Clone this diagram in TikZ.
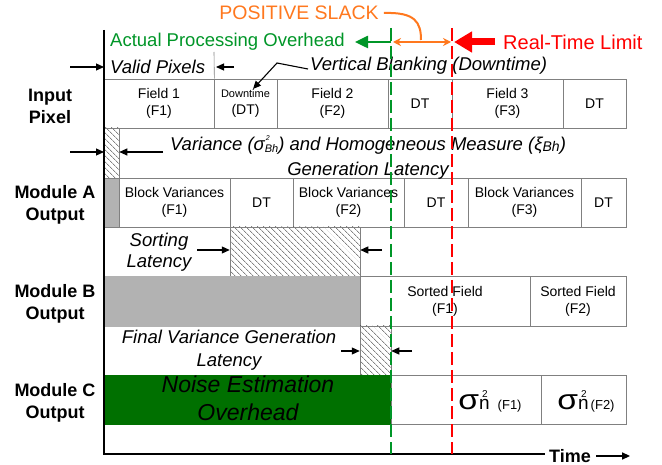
\documentclass[tikz,border=0pt]{standalone}
\usepackage{fontspec}
\usepackage{graphicx}
\setmainfont{Liberation Sans}
\usetikzlibrary{arrows.meta,patterns.meta}
\definecolor{gfill}{RGB}{0,112,0}
\definecolor{gline}{RGB}{0,150,40}
\definecolor{otext}{RGB}{255,120,30}
\definecolor{rline}{RGB}{255,0,0}
\definecolor{bfill}{RGB}{178,178,178}
\definecolor{bord}{RGB}{128,128,128}
\newcommand\sigmn[2]{{\fontsize{28}{28}\selectfont\scalebox{1.2}[1]{σ}}\rlap{\hspace{3pt}\raisebox{12pt}{\fontsize{10}{10}\selectfont 2}}{\fontsize{19}{19}\selectfont n}\hspace{#2}{\fontsize{13}{13}\selectfont (#1)}}
\begin{document}
\begin{tikzpicture}[x=1pt,y=-1pt,
  cell/.style={draw=bord, line width=0.7pt, inner sep=0pt, align=center, font=\fontsize{14}{17}\selectfont, minimum height=49pt},
  rowlab/.style={align=center, font=\fontsize{18}{22}\selectfont\bfseries, inner sep=0pt},
  note/.style={inner sep=0pt},
  hatch/.style={draw=bord, line width=0.5pt, inner sep=0pt, pattern={Lines[angle=-45,distance=4pt,line width=0.6pt]}, pattern color=black!75},
  arr/.style={-{Triangle[length=8pt,width=7pt]}, line width=1.1pt},
  gdash/.style={gline, line width=2.8pt, dash pattern=on 13pt off 5pt},
  rdash/.style={rline, line width=2.8pt, dash pattern=on 13pt off 5pt}]
\useasboundingbox (0,0) rectangle (662,465);
\fill[white] (0,0) rectangle (662,465);

% Row 1 : input pixel
\node[cell, minimum width=110pt] (f1) at (159,103.5) {Field 1\\(F1)};
\node[cell, minimum width=63pt] (dt1) at (245.5,103.5) {{\fontsize{11}{13}\selectfont Downtime}\\(DT)};
\node[cell, minimum width=111pt] (f2) at (332.5,103.5) {Field 2\\(F2)};
\node[cell, minimum width=64pt] (dt2) at (420,103.5) {DT};
\node[cell, minimum width=111pt] (f3) at (507.5,103.5) {Field 3\\(F3)};
\node[cell, minimum width=63pt] (dt3) at (594.5,103.5) {DT};

% variance latency strip
\node[hatch, minimum width=15pt, minimum height=50pt] (vlat) at (111.5,153) {};

% Row 2 : module A
\node[cell, fill=bfill, minimum width=15pt] (ga) at (111.5,202.5) {};
\node[cell, minimum width=111pt] (bv1) at (174.5,202.5) {Block Variances\\(F1)};
\node[cell, minimum width=63pt] (dta1) at (261.5,202.5) {DT};
\node[cell, minimum width=111pt] (bv2) at (348.5,202.5) {Block Variances\\(F2)};
\node[cell, minimum width=64pt] (dta2) at (436,202.5) {DT};
\node[cell, minimum width=113pt] (bv3) at (524.5,202.5) {Block Variances\\(F3)};
\node[cell, minimum width=45pt] (dta3) at (603.5,202.5) {DT};

% sorting latency
\node[hatch, minimum width=130pt, minimum height=49pt] (slat) at (295,251.5) {};

% Row 3 : module B
\node[cell, fill=bfill, draw=bfill, minimum width=256pt, minimum height=50pt] (gb) at (232,301) {};
\node[cell, minimum width=170pt, minimum height=50pt] (sf1) at (445,301) {Sorted Field\\(F1)};
\node[cell, minimum width=96pt, minimum height=50pt] (sf2) at (578,301) {Sorted Field\\(F2)};

% final variance latency
\node[hatch, minimum width=31pt, minimum height=49pt] (flat) at (375.5,350.5) {};

% Row 4 : module C
\node[cell, fill=gfill, draw=gfill, minimum width=287pt] (gc) at (247.5,399.5) {};
\node[cell, minimum width=150pt] (s1) at (466,399.5) {};
\node[cell, minimum width=85pt] (s2) at (583.5,399.5) {};
\node[inner sep=0pt] (s1t) at (490,401) {\sigmn{F1}{8pt}};
\node[inner sep=0pt] (s2t) at (586,401) {\sigmn{F2}{2pt}};
\node[align=center, font=\fontsize{23}{28}\selectfont\itshape, inner sep=0pt] (noise) at (248,398) {Noise Estimation\\Overhead};

% row labels
\node[rowlab] (lin) at (50,106) {Input\\Pixel};
\node[rowlab] (lA) at (55,204.5) {Module A\\Output};
\node[rowlab] (lB) at (55,304) {Module B\\Output};
\node[rowlab] (lC) at (55,403) {Module C\\Output};

% annotations
\node[note, anchor=west, font=\fontsize{18.5}{22}\selectfont\itshape] (vp) at (110,67) {Valid Pixels};
\node[note, anchor=west, font=\fontsize{18.5}{22}\selectfont\itshape] (vb) at (310,66) {Vertical Blanking (Downtime)};
\node[note, align=center, font=\fontsize{18.5}{25}\selectfont\itshape] (var) at (368,157.5)
  {Variance (σ\rlap{\hspace{1pt}\raisebox{10pt}{\fontsize{7}{7}\selectfont 2}}\raisebox{-2pt}{\fontsize{11}{11}\selectfont Bh}) and Homogeneous Measure (ξ\raisebox{-1pt}{\fontsize{14}{14}\selectfont Bh})\\Generation Latency};
\node[note, align=center, font=\fontsize{18.5}{21}\selectfont\itshape] (sort) at (159,252.5) {Sorting\\Latency};
\node[note, align=center, font=\fontsize{18.5}{23}\selectfont\itshape] (fvl) at (229,350.5) {Final Variance Generation\\Latency};

% coordinates
\coordinate (ytop) at (104,30);
\coordinate (orig) at (104,454);
\coordinate (xend) at (545,454);
\coordinate (vpl) at (70,67);
\coordinate (vpr) at (234,67);
\coordinate (vpt) at (214,52);
\coordinate (vbk) at (277,63);
\coordinate (vbt) at (253,89);
\coordinate (varl) at (70,152);
\coordinate (varr) at (163,152);
\coordinate (sortl) at (197,250);
\coordinate (sortr) at (382,250);
\coordinate (fvll) at (341,351);
\coordinate (fvlr) at (412,351);
\coordinate (gtop) at (391,28);
\coordinate (gbot) at (391,454);
\coordinate (rtop) at (452,28);
\coordinate (rbot) at (452,454);
\coordinate (gmid) at (391,42);
\coordinate (rmid) at (452,42);
\coordinate (gend) at (355,42);
\coordinate (rtail) at (495,42);

% arrows of annotations
\draw[arr] (vpl) -- (ytop|-vpl);
\draw[arr] (vpr) -- (216,67);
\draw[bord, line width=0.6pt] (vpt) -- (f1.north east);
\draw[arr] ([xshift=-2pt,yshift=-3pt]vb.west) -- (vbk) -- (vbt);
\draw[arr] (varl) -- (ytop|-varl);
\draw[arr] (varr) -- (vlat.east|-varr);
\draw[arr] (sortl) -- (slat.west|-sortl);
\draw[arr] (sortr) -- (slat.east|-sortr);
\draw[arr] (fvll) -- (flat.west|-fvll);
\draw[arr] (fvlr) -- (flat.east|-fvlr);

% axes
\draw[line width=2pt] (ytop) -- (orig) -- (xend);
\node[anchor=west, font=\fontsize{18}{18}\selectfont\bfseries, inner sep=0pt] (time) at (549,456) {Time};
\draw[arr, line width=1.4pt] ([xshift=5pt]time.east) -- ++(34,0);

% dashed limits
\draw[gdash] (gtop) -- (gbot);
\draw[rdash] (rtop) -- (rbot);

% top labels
\node[font=\fontsize{19.5}{20}\selectfont, text=otext, inner sep=0pt] (slack) at (299,13) {POSITIVE SLACK};
\node[anchor=west, font=\fontsize{18.5}{20}\selectfont, text=gline, inner sep=0pt] (apo) at (110,42) {Actual Processing Overhead};
\node[anchor=west, font=\fontsize{20}{20}\selectfont, text=rline, inner sep=0pt] (rtl) at (503,42) {Real-Time Limit};
\draw[gline, line width=2.5pt, -{Triangle[length=13pt,width=12pt]}] (gmid) -- (gend);
\draw[otext, line width=2pt, {Stealth[length=8pt,width=8pt]}-{Stealth[length=8pt,width=8pt]}] ([xshift=2pt]gmid) -- ([xshift=-1pt]rmid);
\draw[rline, line width=7pt, -{Triangle[length=18pt,width=20pt]}] (rtail) -- ([xshift=2pt]rmid);
\draw[otext, line width=2pt] ([xshift=5pt]slack.east) .. controls (415,12) and (421,22) .. (421,40);
\end{tikzpicture}
\end{document}
